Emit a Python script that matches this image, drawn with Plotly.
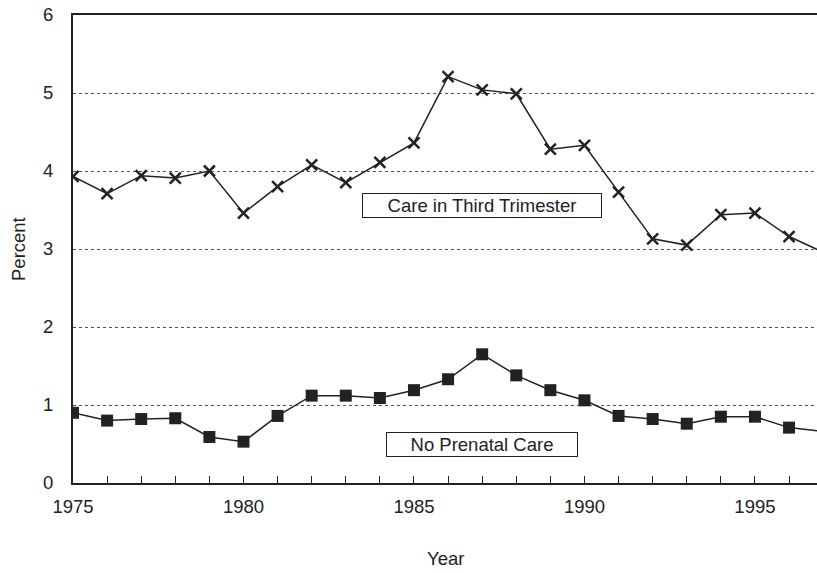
import plotly.graph_objects as go

# values
years = list(range(1975, 1998))
third_trimester = [3.93, 3.71, 3.94, 3.91, 4.00, 3.46, 3.80, 4.08, 3.85, 4.11, 4.36, 5.21,
                   5.04, 4.99, 4.28, 4.33, 3.73, 3.13, 3.05, 3.44, 3.46, 3.16, 2.96]
no_care = [0.90, 0.80, 0.82, 0.83, 0.59, 0.53, 0.86, 1.12, 1.12, 1.09, 1.19, 1.33,
           1.65, 1.38, 1.19, 1.06, 0.86, 0.82, 0.76, 0.85, 0.85, 0.71, 0.66]
x_labels = [1975, 1980, 1985, 1990, 1995]
y_labels = [0, 1, 2, 3, 4, 5, 6]

ink = "#222222"
font = "Liberation Sans, Arial, sans-serif"

fig = go.Figure()
fig.add_trace(go.Scatter(
    x=years, y=third_trimester, mode="lines+markers",
    line=dict(color=ink, width=1.5),
    marker=dict(symbol="x-thin-open", size=11, line=dict(color=ink, width=2.5)),
))
fig.add_trace(go.Scatter(
    x=years, y=no_care, mode="lines+markers",
    line=dict(color=ink, width=1.5),
    marker=dict(symbol="square", size=12, color=ink),
))

fig.add_annotation(x=1987, y=3.56, text="Care in Third Trimester", showarrow=False,
                   font=dict(size=18.5, color=ink, family=font),
                   bordercolor=ink, borderwidth=1, bgcolor="white",
                   width=236, height=21, borderpad=1)
fig.add_annotation(x=1987, y=0.50, text="No Prenatal Care", showarrow=False,
                   font=dict(size=18.5, color=ink, family=font),
                   bordercolor=ink, borderwidth=1, bgcolor="white",
                   width=188, height=21, borderpad=1)

fig.add_annotation(x=0.5, y=0, xref="paper", yref="paper", text="Year",
                   showarrow=False, yanchor="middle", yshift=-75,
                   font=dict(size=18.5, color=ink, family=font))
fig.add_annotation(x=0, y=0.5, xref="paper", yref="paper", text="Percent",
                   showarrow=False, textangle=-90, xanchor="center", xshift=-55,
                   font=dict(size=18.5, color=ink, family=font))

fig.update_xaxes(
    range=[1975, 1996.82], tickvals=x_labels, ticks="inside", ticklen=7,
    tickcolor=ink, tickwidth=1, ticklabelstandoff=6, automargin=False,
    minor=dict(ticks="inside", dtick=1, ticklen=7, tickcolor=ink, showgrid=False),
    showgrid=False, zeroline=False, showline=True, linecolor=ink, linewidth=2,
    mirror=True, tickfont=dict(size=18.5, color=ink, family=font),
)
fig.update_yaxes(
    range=[0, 6], tickvals=y_labels, ticks="", ticklabelstandoff=14, automargin=False,
    showgrid=True, gridcolor="#555555", griddash="dot", gridwidth=1,
    zeroline=False, showline=True, linecolor=ink, linewidth=2,
    tickfont=dict(size=18.5, color=ink, family=font),
)

fig.update_layout(
    width=817, height=573, showlegend=False,
    margin=dict(l=73, r=0, t=15, b=90),
    paper_bgcolor="white", plot_bgcolor="white",
    font=dict(family=font, color=ink),
)

# drop the default 8px body margin so the figure fills the window exactly
fig.write_html("out.html", config={"displayModeBar": False},
               post_script="document.body.style.margin = '0';")
